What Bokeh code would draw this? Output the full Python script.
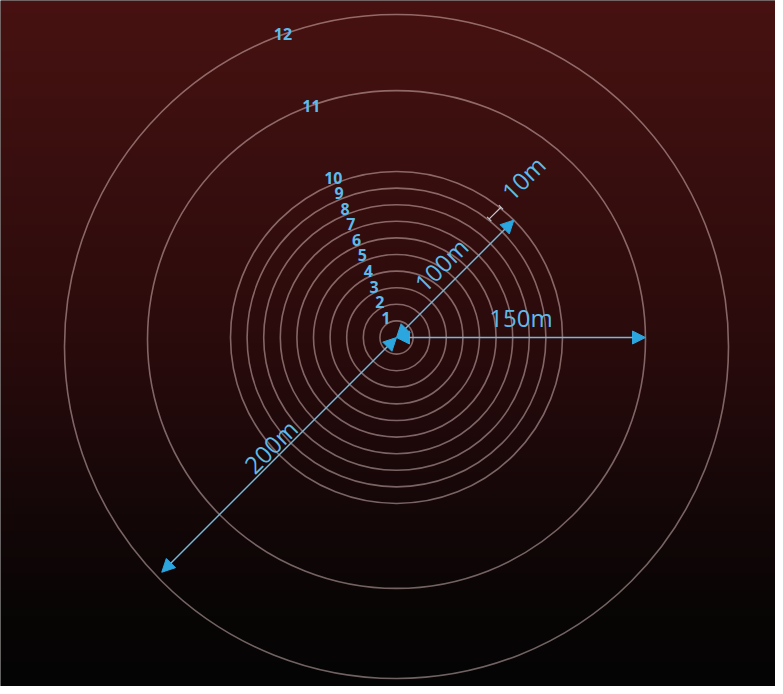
import numpy as np
from bokeh.plotting import figure
from bokeh.models import Range1d, Arrow, NormalHead, TeeHead
from bokeh.core.properties import value
from bokeh.embed import file_html
from bokeh.resources import INLINE

# ---------------- data ----------------
ring_labels = ["1", "2", "3", "4", "5", "6", "7", "8", "9", "10", "11", "12"]
ring_radius_m = [10, 20, 30, 40, 50, 60, 70, 80, 90, 100, 150, 200]
ring_center_dy_m = [0, 0, 0, 0, 0, 0, 0, 0, 0, 0, -1.2, -5.4]

arrow_labels = ["100m", "150m", "200m"]
arrow_length_m = [100, 150, 200]
arrow_angle_deg = [45, 0, 225]

spacing_label = "10m"
spacing_m = 10

# ---------------- layout / style ----------------
W, H = 775, 686
S = 1.66                       # px per metre
CX, CY = 396, 337              # centre in figure pixels
x0, x1 = -CX / S, (W - CX) / S
y1, y0 = CY / S, -(H - CY) / S

FONT = value("Open Sans")
BLUE_TXT = "#5dbbec"
BLUE_HEAD = "#2ba6df"
SHAFT = "#7ab8d8"

p = figure(width=W, height=H, output_backend="svg", toolbar_location=None,
           x_range=Range1d(x0, x1), y_range=Range1d(y0, y1), min_border=0)
p.axis.visible = False
p.grid.visible = False
p.outline_line_color = None
p.background_fill_color = "#0a0505"
p.border_fill_color = None

# background gradient (top dark red -> bottom black)
NH = 256
f = np.linspace(1, 0, NH)  # row 0 is bottom -> f = fraction from top
stops_f = [0.0, 0.5, 0.75, 0.9, 1.0]
stops_c = np.array([(71, 18, 17), (42, 11, 12), (20, 7, 8), (8, 5, 5), (5, 4, 4)], float)
img = np.empty((NH, 2), dtype=np.uint32)
v = img.view(dtype=np.uint8).reshape((NH, 2, 4))
for ch in range(3):
    col = np.interp(f, stops_f, stops_c[:, ch]).astype(np.uint8)
    v[:, :, ch] = col[:, None]
v[:, :, 3] = 255
p.image_rgba(image=[img], x=x0, y=y0, dw=x1 - x0, dh=y1 - y0)

# rings
p.circle(x=[0] * len(ring_radius_m), y=ring_center_dy_m, radius=ring_radius_m,
         fill_color=None, line_color="#f4d4d4", line_alpha=0.45, line_width=1.6)

# ring number labels
lx, ly = [], []
P0 = np.array([-9 / S, 15 / S])
u = np.array([-0.350, 0.936])
u = u / np.linalg.norm(u)
for r, dy, lab in zip(ring_radius_m, ring_center_dy_m, ring_labels):
    if r <= 100:
        R = r + 3.5
        b = P0 @ u
        t = -b + np.sqrt(b * b - P0 @ P0 + R * R)
        pt = P0 + t * u
        lx.append(pt[0]); ly.append(pt[1])
    else:
        a = np.deg2rad(110)
        lx.append(r * np.cos(a)); ly.append(dy + r * np.sin(a))
p.text(x=lx, y=ly, text=ring_labels, text_font=FONT, text_font_size="16px",
       text_font_style="bold", text_color=BLUE_TXT, text_align="center",
       text_baseline="middle")

# dimension arrows
label_perp_px = [20, 20, -12]
for L, ang, lab, perp in zip(arrow_length_m, arrow_angle_deg, arrow_labels, label_perp_px):
    a = np.deg2rad(ang)
    ex, ey = L * np.cos(a), L * np.sin(a)
    p.add_layout(Arrow(x_start=0, y_start=0, x_end=ex, y_end=ey,
                       line_color=SHAFT, line_width=1.4,
                       start=NormalHead(size=13, fill_color=BLUE_HEAD, line_color=BLUE_HEAD),
                       end=NormalHead(size=13, fill_color=BLUE_HEAD, line_color=BLUE_HEAD)))
    nx, ny = -np.sin(a), np.cos(a)
    mx = L / 2 * np.cos(a) + perp / S * nx
    my = L / 2 * np.sin(a) + perp / S * ny
    ta = ang if ang < 180 else ang - 180
    p.text(x=[mx], y=[my], text=[lab], angle=np.deg2rad(ta), text_font=FONT,
           text_font_size="24px", text_color=BLUE_TXT,
           text_align="center", text_baseline="middle")

# ring spacing marker (between ring 9 and ring 10)
a = np.deg2rad(45)
nx, ny = -np.sin(a), np.cos(a)
r_out = ring_radius_m[9]
r_in = r_out - spacing_m
off = 11
p.add_layout(Arrow(x_start=r_in * np.cos(a) + off * nx, y_start=r_in * np.sin(a) + off * ny,
                   x_end=r_out * np.cos(a) + off * nx, y_end=r_out * np.sin(a) + off * ny,
                   line_color="#c8c8d0", line_width=1.2,
                   start=TeeHead(size=6, line_color="#c8c8d0", line_width=1.2),
                   end=TeeHead(size=6, line_color="#c8c8d0", line_width=1.2)))
p.text(x=[122 * np.cos(a) + 14 * nx], y=[122 * np.sin(a) + 14 * ny], text=[spacing_label],
       angle=a, text_font=FONT, text_font_size="24px", text_color=BLUE_TXT,
       text_align="center", text_baseline="middle")

open("out.html", "w").write(file_html(p, INLINE))
